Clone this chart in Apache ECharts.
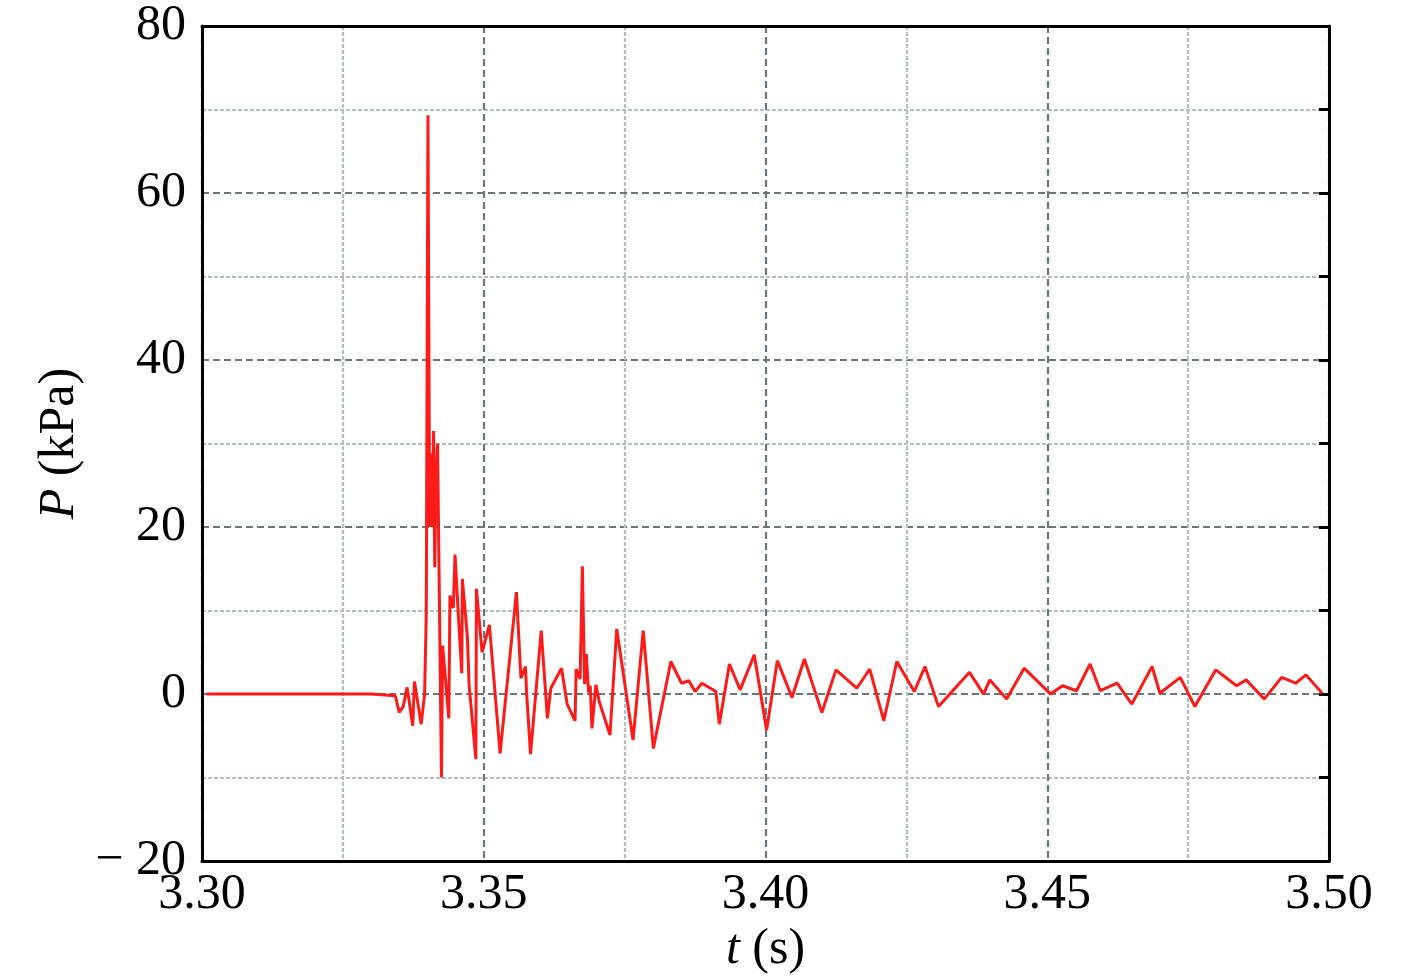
<!DOCTYPE html>
<html>
<head>
<meta charset="utf-8">
<script src="https://cdn.jsdelivr.net/npm/echarts@6/dist/echarts.min.js"></script>
<style>
  html, body { margin: 0; padding: 0; background: #fff; }
  #chart { width: 1418px; height: 980px; }
</style>
</head>
<body>
<div id="chart"></div>
<script>
// time (s) and pressure (kPa)
var times = [
  3.3008, 3.3300, 3.3343, 3.3350, 3.3357, 3.3364, 3.3374, 3.3377, 3.3389, 3.3395,
  3.3398, 3.3401, 3.3404, 3.3406, 3.3408, 3.3411, 3.3413, 3.3415, 3.3418, 3.3420,
  3.3425, 3.3427, 3.3438, 3.3440, 3.3446, 3.3449, 3.3455, 3.3461, 3.3462, 3.3471,
  3.3474, 3.3486, 3.3487, 3.3497, 3.3510, 3.3529, 3.3558, 3.3566, 3.3574, 3.3576,
  3.3583, 3.3602, 3.3613, 3.3619, 3.3638, 3.3648, 3.3662, 3.3664, 3.3671, 3.3675,
  3.3679, 3.3682, 3.3686, 3.3689, 3.3692, 3.3699, 3.3705, 3.3724, 3.3736, 3.3765,
  3.3783, 3.3801, 3.3832, 3.3851, 3.3864, 3.3875, 3.3887, 3.3912, 3.3918, 3.3936,
  3.3955, 3.3980, 3.4002, 3.4021, 3.4047, 3.4069, 3.4100, 3.4125, 3.4162, 3.4185,
  3.4210, 3.4233, 3.4264, 3.4283, 3.4307, 3.4362, 3.4387, 3.4398, 3.4428, 3.4459,
  3.4506, 3.4527, 3.4552, 3.4576, 3.4594, 3.4624, 3.4650, 3.4686, 3.4700, 3.4736,
  3.4762, 3.4799, 3.4836, 3.4853, 3.4885, 3.4916, 3.4941, 3.4959, 3.4988
];
var pressure = [
  0, 0, -0.2, -2.2, -1.5, 0.8, -3.8, 1.5, -3.6, 0,
  9.6, 69.3, 20, 28.8, 20, 31.5, 15.2, 25, 30, 18.5,
  -10, 5.8, -2.9, 11.8, 10.3, 16.7, 9.4, 2.5, 13.8, 6.8,
  1.1, -7.8, 12.6, 5.0, 8.3, -7.1, 12.2, 1.9, 3.3, 0.2,
  -7.2, 7.6, -2.9, 0.7, 3.1, -1.2, -3.2, 3.0, 1.8, 15.3,
  1.2, 4.8, 0.2, 1.0, -4.1, 1.1, -0.9, -4.9, 7.8, -5.5,
  7.6, -6.5, 3.9, 1.3, 1.6, 0.3, 1.3, 0.3, -3.6, 3.6,
  0.5, 4.7, -4.3, 4.0, -0.4, 4.2, -2.2, 2.9, 0.7, 3.0,
  -3.2, 3.9, 0.3, 3.3, -1.5, 2.6, 0.0, 1.7, -0.6, 3.1,
  0.0, 1.0, 0.4, 3.6, 0.4, 1.3, -1.2, 3.3, 0.1, 2.0,
  -1.5, 2.9, 1.0, 1.7, -0.6, 2.0, 1.3, 2.3, 0.1
];
var tMin = 3.30, tMax = 3.50, tStep = 0.05;
var pMin = -20, pMax = 80, pStep = 20;

var points = times.map(function (t, i) { return [t, pressure[i]]; });

var serif = '"Liberation Serif", "Times New Roman", serif';
var darkGrid = { color: '#6a777c', width: 2.2, type: [7, 4] };
var lightGrid = { color: '#b3bfc1', width: 2.2, type: [4, 2] };

var chart = echarts.init(document.getElementById('chart'));
chart.setOption({
  animation: false,
  backgroundColor: '#fff',
  grid: { left: 202, right: 89, top: 26, bottom: 113, containLabel: false },
  xAxis: [
    {
      type: 'value',
      min: tMin, max: tMax, interval: tStep,
      name: '{i|t} (s)',
      nameLocation: 'middle',
      nameGap: 58,
      nameTextStyle: {
        fontFamily: serif, fontSize: 50, color: '#000',
        rich: { i: { fontFamily: serif, fontSize: 50, fontStyle: 'italic', color: '#000' } }
      },
      axisLine: { onZero: false, lineStyle: { color: '#000', width: 3 } },
      axisTick: { show: false },
      axisLabel: {
        fontFamily: serif, fontSize: 50, color: '#000', margin: 9,
        formatter: function (v) { return v.toFixed(2); }
      },
      splitLine: { show: true, lineStyle: darkGrid },
      minorTick: { show: false, splitNumber: 2 },
      minorSplitLine: { show: true, lineStyle: lightGrid }
    },
    {
      type: 'value', position: 'top',
      min: tMin, max: tMax, interval: tStep,
      axisLine: { onZero: false, lineStyle: { color: '#000', width: 3 } },
      axisTick: { show: false },
      axisLabel: { show: false },
      splitLine: { show: false }
    }
  ],
  yAxis: [
    {
      type: 'value',
      min: pMin, max: pMax, interval: pStep,
      name: '{i|P} (kPa)',
      nameLocation: 'middle',
      nameGap: 96,
      nameRotate: 90,
      nameTextStyle: {
        fontFamily: serif, fontSize: 50, color: '#000',
        rich: { i: { fontFamily: serif, fontSize: 50, fontStyle: 'italic', color: '#000' } }
      },
      axisLine: { onZero: false, lineStyle: { color: '#000', width: 3 } },
      axisTick: { show: false },
      axisLabel: {
        fontFamily: serif, fontSize: 50, color: '#000', margin: 16,
        formatter: function (v) { return v < 0 ? '\u2212 ' + Math.abs(v) : String(v); }
      },
      splitLine: { show: true, lineStyle: darkGrid },
      minorTick: { show: false, splitNumber: 2 },
      minorSplitLine: { show: true, lineStyle: lightGrid }
    },
    {
      type: 'value', position: 'right',
      min: pMin, max: pMax, interval: 10,
      axisLine: { onZero: false, lineStyle: { color: '#000', width: 3 } },
      axisTick: { show: true, inside: true, length: 10, lineStyle: { color: '#000', width: 3 } },
      axisLabel: { show: false },
      splitLine: { show: false }
    }
  ],
  series: [
    {
      type: 'line',
      data: points,
      showSymbol: false,
      symbol: 'none',
      lineStyle: { color: '#ff1a1a', width: 3 },
      z: 5
    }
  ]
});
</script>
</body>
</html>
